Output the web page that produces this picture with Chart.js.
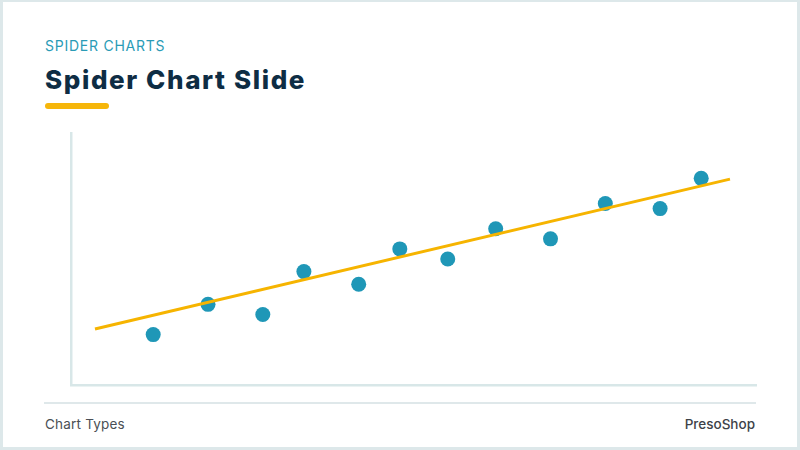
<!DOCTYPE html>
<html>
<head>
<meta charset="utf-8">
<script src="https://cdn.jsdelivr.net/npm/chart.js@4"></script>
<style>
  html, body { margin: 0; padding: 0; background: #fff; }
  .slide {
    position: relative; width: 800px; height: 450px; box-sizing: border-box;
    border: 3px solid #dde8ea; border-top-width: 2px; background: #fff;
    font-family: "Inter", "Noto Sans", sans-serif; overflow: hidden;
  }
  .kicker { position: absolute; left: 42px; top: 35px; font-size: 14px; color: #2a9bb6; letter-spacing: 0.75px; }
  .titulo { position: absolute; left: 42px; top: 62px; font-size: 26px; font-weight: 800; color: #0e2d44; letter-spacing: 1.6px; }
  .barra { position: absolute; left: 42px; top: 101px; width: 64px; height: 6px; border-radius: 3px; background: #f6b60a; }
  .pie-linea { position: absolute; left: 41px; top: 400px; width: 712px; height: 2px; background: #dfe8ea; }
  .pie-izq { position: absolute; left: 42px; top: 414px; font-size: 13.5px; color: #4a4f55; letter-spacing: 0.2px; }
  .pie-der { position: absolute; right: 42px; top: 414px; font-size: 13.5px; color: #3d4248; font-weight: 500; }
  #grafico { position: absolute; left: -3px; top: -2px; }
</style>
</head>
<body>
<div class="slide">
  <div class="kicker">SPIDER CHARTS</div>
  <div class="titulo">Spider Chart Slide</div>
  <div class="barra"></div>
  <div class="pie-linea"></div>
  <div class="pie-izq">Chart Types</div>
  <div class="pie-der">PresoShop</div>
  <canvas id="grafico" width="800" height="450"></canvas>
</div>
<script>
// puntos
const valoresX = [12, 20, 28, 34, 42, 48, 55, 62, 70, 78, 86, 92];
const valoresY = [20, 32, 28, 45, 40, 54, 50, 62, 58, 72, 70, 82];
// linea de tendencia (extremos)
const tendenciaX = [3.5, 96.2];
const tendenciaY = [22.2, 81.7];

let armarPuntos = (xs, ys) => xs.map((x, i) => ({ x: x, y: ys[i] }));

let generarGrafico = () => {
    let contexto = document.getElementById('grafico').getContext('2d');
    window.grafico = new Chart(contexto, {
        type: 'scatter',
        data: {
            datasets: [{
                type: 'line',
                label: 'Tendencia',
                data: armarPuntos(tendenciaX, tendenciaY),
                borderColor: '#f6b400',
                borderWidth: 3,
                pointRadius: 0,
                fill: false,
                order: 0,
            }, {
                label: 'Datos',
                data: armarPuntos(valoresX, valoresY),
                backgroundColor: '#1f97b7',
                borderWidth: 0,
                pointRadius: 7.5,
                pointHoverRadius: 7.5,
                order: 1,
            }],
        },
        options: {
            responsive: false,
            animation: false,
            layout: { padding: { left: 71, right: 44, top: 133, bottom: 65 } },
            plugins: { legend: { display: false }, tooltip: { enabled: false } },
            scales: {
                x: {
                    type: 'linear', min: 0, max: 100,
                    grid: { display: false, drawTicks: false },
                    ticks: { display: false },
                    border: { display: true, color: '#d8e7e8', width: 2.5 },
                },
                y: {
                    type: 'linear', min: 0, max: 100,
                    grid: { display: false, drawTicks: false },
                    ticks: { display: false },
                    border: { display: true, color: '#d8e7e8', width: 2.5 },
                },
            },
        },
    });
};

generarGrafico();
</script>
</body>
</html>
